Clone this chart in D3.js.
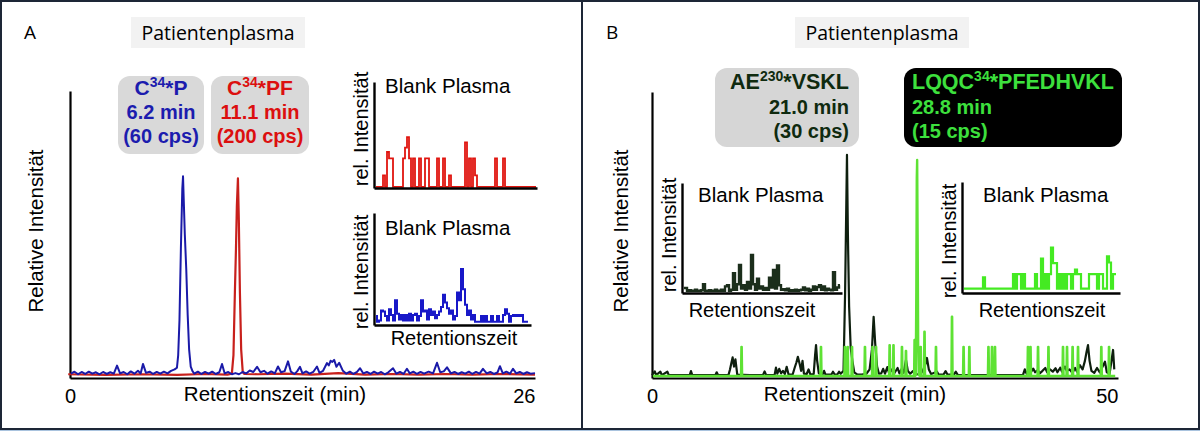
<!DOCTYPE html>
<html><head><meta charset="utf-8">
<script src="https://cdn.jsdelivr.net/npm/d3@7"></script>
<style>body{margin:0;background:#fff}svg{display:block}</style>
</head><body>
<svg id="c" width="1200" height="431"></svg>
<script>
// ---------------- DATA ----------------
const panelLetters = ["A", "B"];
const panelTitle = "Patientenplasma";
const axisTitleX = "Retentionszeit (min)";
const axisTitleY = "Relative Intensität";
const insetTitle = "Blank Plasma";
const insetAxisX = "Retentionszeit";
const insetAxisY = "rel. Intensität";

const ticksA = [0, 26];
const ticksB = [0, 50];

// peptide labels: [prefix, superscript, suffix]
const peptidesA = [["C", "34", "*P"], ["C", "34", "*PF"]];
const timesA = [6.2, 11.1];
const cpsA = [60, 200];
const peptidesB = [["AE", "230", "*VSKL"], ["LQQC", "34", "*PFEDHVKL"]];
const timesB = [21.0, 28.8];
const cpsB = [30, 15];

// Panel A main traces [time (min), relative intensity]
const blueA = [[0.05,1.5],[0.25,2.2],[0.45,1.3],[0.65,2.1],[0.85,1.4],[1.05,2.2],[1.25,1.5],[1.45,2.0],[1.65,1.3],[1.85,2.1],[2.05,1.4],[2.25,2.0],[2.45,1.5],[2.63,4.3],[2.8,1.6],[3.0,2.1],[3.2,1.3],[3.4,2.3],[3.6,1.5],[3.8,2.5],[3.95,1.6],[4.08,4.9],[4.25,1.8],[4.45,2.2],[4.65,1.4],[4.85,2.1],[5.05,1.5],[5.25,2.2],[5.45,1.6],[5.65,2.5],[5.85,3.0],[5.98,3.6],[6.05,8],[6.12,20],[6.2,45],[6.28,66],[6.32,70.3],[6.36,62],[6.42,50],[6.5,38],[6.58,22],[6.66,10],[6.75,4],[6.85,2.4],[6.95,1.5],[7.15,2.2],[7.35,1.4],[7.55,2.1],[7.75,1.5],[7.95,2.2],[8.15,1.4],[8.35,2.0],[8.5,4.9],[8.65,1.6],[8.85,2.1],[9.05,1.3],[9.25,1.7],[9.45,1.3],[9.65,2.1],[9.85,1.6],[10.05,2.6],[10.25,2.1],[10.46,3.9],[10.65,2.0],[10.85,2.5],[11.05,1.5],[11.25,2.3],[11.45,1.6],[11.63,4.0],[11.8,2.0],[12.0,2.4],[12.19,5.8],[12.35,2.2],[12.55,1.4],[12.7,2.3],[12.86,3.9],[13.0,1.6],[13.2,2.3],[13.4,1.5],[13.6,2.1],[13.81,4.0],[13.95,1.8],[14.15,2.5],[14.37,5.2],[14.47,4.4],[14.57,6.0],[14.67,5.6],[14.77,6.3],[14.9,3.9],[15.05,5.3],[15.26,2.5],[15.45,1.5],[15.65,2.2],[15.85,1.4],[16.05,2.1],[16.22,3.4],[16.4,1.6],[16.6,2.1],[16.8,1.4],[17.0,2.2],[17.2,1.5],[17.4,2.1],[17.6,1.3],[17.8,2.0],[18.06,3.4],[18.25,1.5],[18.45,2.1],[18.65,1.4],[18.84,3.2],[19.0,1.6],[19.2,2.2],[19.4,1.4],[19.6,2.1],[19.8,1.5],[20.05,2.2],[20.3,1.6],[20.52,5.3],[20.7,2.0],[20.9,2.3],[21.08,3.7],[21.3,1.6],[21.5,2.1],[21.7,1.4],[21.9,2.0],[22.1,1.5],[22.3,2.2],[22.5,1.4],[22.7,2.1],[22.9,1.5],[23.09,3.2],[23.3,1.6],[23.5,2.1],[23.7,1.4],[23.9,1.9],[24.04,4.1],[24.2,1.6],[24.4,2.2],[24.6,1.5],[24.77,3.2],[24.95,1.6],[25.15,2.1],[25.35,1.4],[25.55,2.0],[25.75,1.5],[26.0,1.7]];
const redA = [[-0.1,1.3],[2.0,1.1],[4.0,1.3],[6.0,1.1],[7.5,1.4],[8.8,1.2],[9.05,1.5],[9.14,8],[9.22,30],[9.28,45],[9.33,60],[9.39,69.6],[9.44,55],[9.5,30],[9.57,10],[9.66,2],[9.75,1.4],[10.5,1.3],[12.0,1.5],[13.5,1.2],[15.0,1.7],[16.5,1.2],[18.0,1.4],[19.5,1.2],[21.0,1.4],[22.5,1.2],[24.0,1.4],[26.0,1.2]];

// Panel A insets (blank plasma), equal-width bins
const redInset = [1,1,1,1,12,1,34,28,28,1, 1,1,1,1,28,38,48,28,1,28, 1,1,28,1,1,28,28,1,1,1, 1,28,1,1,28,1,1,12,1,1, 1,1,1,1,1,43,1,28,1,28, 12,1,1,1,1,1,1,1,1,1, 28,1,1,1,28,1,1,1,1,1, 1,1,1,1,1,1,1,1,1,1, 1];
const blueInset = [8,3,4,13,12,8,4,14,9,4, 22,10,5,9,4,9,4,10,4,9, 10,4,8,22,12,13,5,14,9,12, 6,9,12,16,27,20,15,10,13,5, 8,29,22,50,32,18,9,13,5,9, 3,3,3,8,3,8,3,3,8,3, 3,8,3,3,9,14,10,3,8,9, 8,9,8,9,3,3,3];

// Panel B main traces
const blackB = [[0,1.0],[0.3,2.3],[0.45,1.0],[0.9,2.2],[1.05,1.0],[1.65,2.2],[1.8,1.0],[4.05,1.0],[4.18,2.4],[4.32,1.0],[6.8,1.0],[6.94,2.0],[7.1,1.0],[8.2,1.0],[8.37,3],[8.5,5],[8.65,7.2],[8.8,4],[8.95,6.5],[9.15,1.2],[10.5,1.0],[11.9,1.0],[12.08,2.3],[12.25,1.0],[13.15,1.0],[13.3,3.6],[13.45,1.5],[13.65,3.2],[13.85,1.6],[14.05,2.5],[14.25,1.4],[14.45,3.9],[14.65,1.2],[15.1,1.3],[15.3,3.5],[15.5,5.5],[15.65,7.4],[15.85,4.8],[16.0,2.5],[16.15,6],[16.3,1.5],[16.6,1.4],[16.8,3.0],[17.0,1.2],[17.35,1.4],[17.5,8],[17.6,11.5],[17.72,6],[17.9,1.6],[18.3,1.3],[18.46,2.5],[18.62,1.2],[19.25,1.2],[19.42,2.2],[19.6,1.2],[19.9,1.3],[20.07,2.2],[20.25,1.5],[20.55,2.5],[20.72,30],[20.92,78],[21.02,50],[21.15,25],[21.32,10.5],[21.5,6],[21.7,2.0],[22.0,1.3],[22.5,1.2],[23.0,1.5],[23.35,3],[23.6,10],[23.78,21.4],[23.95,12],[24.15,4],[24.35,1.5],[24.6,1.6],[24.8,3.2],[25.0,1.5],[25.25,3.8],[25.45,1.6],[25.75,3.0],[25.95,1.4],[26.35,3.5],[26.55,1.6],[26.8,3.2],[27.0,1.8],[27.25,6.3],[27.45,2.5],[27.7,1.5],[28.0,2.4],[28.3,1.3],[28.8,1.4],[29.05,2.5],[29.3,4.5],[29.5,7.0],[29.7,3],[29.95,1.4],[30.58,2.2],[30.75,1.2],[31.3,1.3],[31.5,2.4],[31.7,1.2],[32.4,1.2],[32.6,2.2],[32.8,1.1],[36.55,1.0],[36.7,2.2],[36.85,1.0],[39.8,1.0],[40.0,3],[40.2,1.5],[40.4,2.5],[40.6,1.8],[40.9,3.3],[41.1,2.0],[41.4,2.8],[41.6,1.6],[41.9,2.5],[42.2,3.5],[42.4,2.0],[42.7,3.0],[43.0,2.2],[43.3,3.4],[43.5,2.0],[43.8,3.6],[44.0,2.2],[44.3,4.0],[44.5,2.5],[44.8,3.0],[45.1,1.8],[45.4,3.5],[45.6,2.2],[45.9,4.5],[46.2,3.0],[46.45,6],[46.62,9],[46.78,11.5],[46.95,6],[47.15,2.5],[47.45,1.8],[47.75,3.5],[48.05,2.0],[48.35,4],[48.6,5.7],[48.8,2.0],[49.1,1.5],[49.3,6],[49.47,9.8],[49.6,3]];
const greenBSpikes = [[9.61,10.9],[18.13,10.9],[20.7,10.9],[21.0,10.9],[21.46,10.9],[22.85,10.9],[23.66,10.9],[24.04,10.9],[25.5,11.5],[25.91,11.5],[26.82,10.9],[27.25,9.5],[28.18,13.3],[28.83,10.9],[29.24,16.2],[30.47,10.9],[32.19,21.4],[33.43,10.9],[34.05,10.9],[36.1,10.9],[36.48,10.9],[36.8,10.9],[40.34,10.9],[40.61,10.9],[41.42,10.9],[42.54,10.9],[44.1,10.9],[44.53,10.9],[45.13,10.9],[45.71,10.9],[48.21,10.9],[49.04,10.9]];
const greenBPeak = [[28.3,1],[28.36,30],[28.41,70],[28.45,76.2],[28.5,50],[28.56,12],[28.62,1]];
const greenBBase = [[0.1,0.7],[49.7,0.7]];

// Panel B insets (blank plasma)
const blackInset = [4.5,4.5,2,2.5,2,2,3,2,2,2.5, 8,2,2,2.5,2,2,3,2,2,3, 2,6,7,2,3,18,3,8,25.5,4, 7,3,10,4,34.5,8,3,13,4,6, 3,4.5,3,14,5,21,4,25,7,3, 3.5,2.5,4,2,2.5,2,3,2,2.5,3, 5,2.5,4,2,3,6,3,5.5,7,3, 6,2.5,4,3,2.5,19,3,5,7];
const greenInset = [4,4,4,4,4,4,4,4,4,4, 14,4,4,4,4,4,4,4,4,4, 4,4,4,4,4,17,4,17,17,4, 17,4,4,4,4,4,17,4,4,31, 4,17,4,17,41,27,27,4,17,4, 17,4,17,17,4,17,21,17,17,4, 4,4,4,17,17,17,17,4,17,17, 4,4,33,27.5,4,17,17];

// ---------------- DRAWING ----------------
const F = "'Liberation Sans', Arial, Helvetica, sans-serif";
const F2 = "'Open Sans', Lato, sans-serif";
const svg = d3.select('#c');

// frame
svg.append('rect').attr('x',1).attr('y',1).attr('width',1198).attr('height',428)
  .attr('fill','none').attr('stroke','#1d2636').attr('stroke-width',2);
svg.append('line').attr('x1',582).attr('x2',582).attr('y1',0).attr('y2',430)
  .attr('stroke','#1d2636').attr('stroke-width',2);
svg.append('line').attr('x1',0).attr('x2',1200).attr('y1',430.5).attr('y2',430.5)
  .attr('stroke','#a9c3de').attr('stroke-width',1);

function panelHeader(letterX, letter, cx) {
  svg.append('text').attr('x',letterX).attr('y',39).attr('font-family',F2).attr('font-size',19)
    .attr('fill','#000').text(letter);
  svg.append('rect').attr('x',cx-87).attr('y',17).attr('width',174).attr('height',31).attr('fill','#f2f2f2');
  svg.append('text').attr('x',cx).attr('y',40).attr('text-anchor','middle').attr('font-family',F2)
    .attr('font-size',19.5).attr('fill','#000').text(panelTitle);
}
panelHeader(24, panelLetters[0], 218);
panelHeader(606, panelLetters[1], 882);

function mainChart(cfg) {
  const x = d3.scaleLinear().domain(cfg.xDomain).range(cfg.xRange);
  const y = d3.scaleLinear().domain([0,100]).range([cfg.yBase, cfg.yTop]);
  const xa = svg.append('g').attr('transform',`translate(0,${cfg.yBase})`)
    .call(d3.axisBottom(x).tickValues(cfg.ticks).tickSize(0).tickPadding(11).tickFormat(d3.format('d')));
  xa.select('.domain').attr('stroke','#000').attr('stroke-width',2.2);
  xa.selectAll('text').attr('font-family',F).attr('font-size',20).attr('fill','#000');
  xa.selectAll('.tick:last-of-type text').attr('text-anchor','end');
  const ya = svg.append('g').attr('transform',`translate(${cfg.xRange[0]},0)`)
    .call(d3.axisLeft(y).tickValues([]).tickSizeOuter(0));
  ya.select('.domain').attr('stroke','#000').attr('stroke-width',2.2);
  svg.append('text').attr('x',cfg.titleX).attr('y',401).attr('text-anchor','middle')
    .attr('font-family',F).attr('font-size',20.5).text(axisTitleX);
  svg.append('text').attr('transform',`translate(${cfg.yTitleX},231) rotate(-90)`).attr('text-anchor','middle')
    .attr('font-family',F).attr('font-size',20.5).text(axisTitleY);
  const line = d3.line().x(d=>x(d[0])).y(d=>y(d[1]));
  cfg.traces.forEach(t => {
    svg.append('path').datum(t.data).attr('d',line).attr('fill','none')
      .attr('stroke',t.color).attr('stroke-width',t.width).attr('stroke-linejoin','round');
  });
  return {x, y};
}

function spikeTrace(base, spikes, peak) {
  const pts = base.slice();
  spikes.forEach(([t,v]) => { pts.push([t-0.06,base[0][1]],[t-0.015,v],[t+0.015,v],[t+0.06,base[0][1]]); });
  peak.forEach(p => pts.push(p));
  return pts.sort((a,b)=>a[0]-b[0]);
}

mainChart({xDomain:[0,26], xRange:[70,535], yBase:378, yTop:91, ticks:ticksA, titleX:275, yTitleX:43,
  traces:[{data:redA,color:'#c8201c',width:2.2},{data:blueA,color:'#1a1aa8',width:2}]});
mainChart({xDomain:[0,50], xRange:[652,1118], yBase:378, yTop:92, ticks:ticksB, titleX:855, yTitleX:628,
  traces:[{data:blackB,color:'#0e1f0e',width:2.2},
          {data:spikeTrace(greenBBase, greenBSpikes, greenBPeak),color:'#5ee234',width:2.4}]});

function inset(cfg) {
  const n = cfg.data.length;
  const x = d3.scaleLinear().domain([0,n]).range([cfg.binStart, cfg.binStart + n*2]);
  const y = d3.scaleLinear().domain([0,100]).range([cfg.yBase, cfg.yTop]);
  svg.append('path').datum(cfg.data)
    .attr('d', d3.line().curve(d3.curveStep).x((d,i)=>x(i+0.5)).y(d=>y(d)))
    .attr('fill','none').attr('stroke',cfg.color).attr('stroke-width',cfg.width);
  const xs = d3.scaleLinear().range([cfg.x0, cfg.x1]);
  const xa = svg.append('g').attr('transform',`translate(0,${cfg.yBase})`)
    .call(d3.axisBottom(xs).tickValues([]).tickSizeOuter(0));
  xa.select('.domain').attr('stroke','#000').attr('stroke-width',2.4);
  const ya = svg.append('g').attr('transform',`translate(${cfg.x0},0)`)
    .call(d3.axisLeft(y).tickValues([]).tickSizeOuter(0));
  ya.select('.domain').attr('stroke','#000').attr('stroke-width',2.4);
  svg.append('text').attr('x',cfg.titleX).attr('y',cfg.titleY).attr('font-family',F).attr('font-size',20.5).text(insetTitle);
  svg.append('text').attr('transform',`translate(${cfg.x0-6},${cfg.yLabelY}) rotate(-90)`).attr('text-anchor','middle')
    .attr('font-family',F).attr('font-size',20).text(insetAxisY);
  if (cfg.xLabelY) svg.append('text').attr('x',cfg.xLabelX).attr('y',cfg.xLabelY).attr('text-anchor','middle')
    .attr('font-family',F).attr('font-size',20).text(insetAxisX);
}
inset({data:redInset, color:'#e0150f', width:1.8, binStart:375, x0:374, x1:537, yTop:82, yBase:188,
  titleX:385, titleY:93, yLabelY:129});
inset({data:blueInset, color:'#1818c8', width:2, binStart:375, x0:374, x1:531, yTop:213, yBase:325,
  titleX:385, titleY:235, yLabelY:272, xLabelX:454, xLabelY:345});
inset({data:blackInset, color:'#1b2e1b', width:2.4, binStart:683, x0:682, x1:842, yTop:183, yBase:293,
  titleX:698, titleY:202, yLabelY:235, xLabelX:752, xLabelY:317});
inset({data:greenInset, color:'#44ea22', width:2.2, binStart:963, x0:962, x1:1120, yTop:182, yBase:293,
  titleX:983, titleY:202, yLabelY:241, xLabelX:1042, xLabelY:317});

// peptide label boxes
function labelBox(b) {
  svg.append('rect').attr('x',b.x).attr('y',b.y).attr('width',b.w).attr('height',b.h).attr('rx',12)
    .attr('fill',b.fill);
  const lines = [null, b.time.toFixed(1)+' min', '('+b.cps+' cps)'];
  lines.forEach((ln,i) => {
    const t = svg.append('text').attr('x',b.tx).attr('y',b.baselines[i]).attr('text-anchor',b.anchor)
      .attr('font-family',F).attr('font-weight','bold').attr('font-size',i===0?b.nameSize:20).attr('fill',b.color);
    if (i===0) {
      t.append('tspan').text(b.pep[0]);
      t.append('tspan').attr('font-size',14).attr('dy',-8).text(b.pep[1]);
      t.append('tspan').attr('dy',8).text(b.pep[2]);
    } else t.text(ln);
  });
}
labelBox({x:118,y:76,w:86,h:78,fill:'#d9d9d9',color:'#1c1cae',tx:161,anchor:'middle',baselines:[95,119,143],nameSize:21,
  pep:peptidesA[0],time:timesA[0],cps:cpsA[0]});
labelBox({x:211,y:76,w:98,h:78,fill:'#d9d9d9',color:'#dc0f0f',tx:260,anchor:'middle',baselines:[95,119,143],nameSize:21,
  pep:peptidesA[1],time:timesA[1],cps:cpsA[1]});
labelBox({x:715,y:68,w:144,h:79,fill:'#d6d6d6',color:'#0f2a0f',tx:849,anchor:'end',baselines:[89,114,138],nameSize:21.5,
  pep:peptidesB[0],time:timesB[0],cps:cpsB[0]});
labelBox({x:904,y:68,w:218,h:79,fill:'#000',color:'#3de03d',tx:912,anchor:'start',baselines:[89,114,138],nameSize:21.5,
  pep:peptidesB[1],time:timesB[1],cps:cpsB[1]});
</script>
</body></html>
